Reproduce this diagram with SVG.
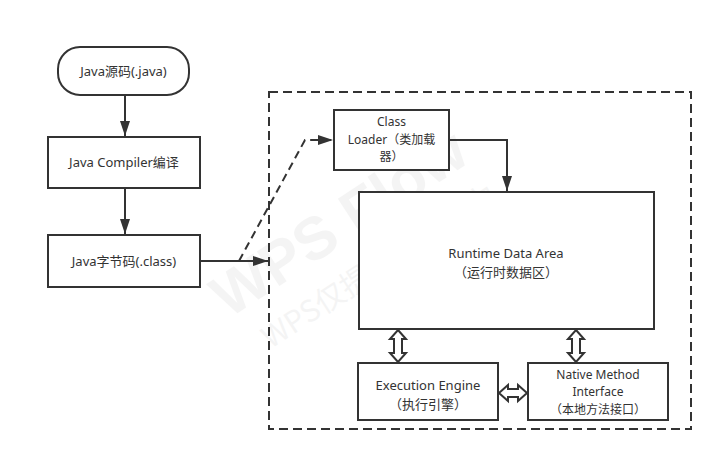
<svg xmlns="http://www.w3.org/2000/svg" width="723" height="462" viewBox="0 0 723 462">
<style>
.box{fill:#fff;stroke:#333;stroke-width:2}
.t{font-family:"Noto Sans","Noto Sans CJK SC",sans-serif;font-size:13px;fill:#333;text-anchor:middle}
.s{font-size:12px}
.ln{fill:none;stroke:#333;stroke-width:2}
.dash{fill:none;stroke:#333;stroke-width:2;stroke-dasharray:8 5}
.dbl{fill:#fff;stroke:#333;stroke-width:2;stroke-linejoin:miter}
.wm{fill:#000;opacity:0.04;text-anchor:middle}
</style>
<defs>
<marker id="ahw" markerWidth="16" markerHeight="12" refX="15" refY="6" orient="auto" markerUnits="userSpaceOnUse">
<path d="M0,1 L15,6 L0,11 Z" fill="#333"/>
</marker>
</defs>
<rect fill="#fff" x="0" y="0" width="723" height="462"/>
<g id="watermark">
<text class="wm" x="350" y="240" font-size="60" font-weight="bold" transform="rotate(-33 350 240)" style="font-family:'Liberation Sans',sans-serif">WPS Flow</text>
<text class="wm" x="385" y="275" font-size="30" transform="rotate(-33 385 275)" style="font-family:'Noto Sans CJK SC',sans-serif">WPS仅提供作图能力</text>
</g>
<g id="container">
<rect x="269" y="92" width="422" height="337" fill="none" stroke="#333" stroke-width="2" stroke-dasharray="9 5"/>
</g>
<g id="connectors">
<line class="ln" x1="125" y1="95" x2="125" y2="136" marker-end="url(#ahw)"/>
<line class="ln" x1="125" y1="188" x2="125" y2="234" marker-end="url(#ahw)"/>
<line class="ln" x1="200" y1="261" x2="268" y2="261" marker-end="url(#ahw)"/>
<polyline class="dash" points="239,261 305,140 333,140" marker-end="url(#ahw)"/>
<polyline class="ln" points="450,140 507,140 507,191" marker-end="url(#ahw)"/>
<polygon class="dbl" points="398,330 406,339 402,339 402,353 406,353 398,362 390,353 394,353 394,339 390,339"/>
<polygon class="dbl" points="576,330 584,339 580,339 580,353 584,353 576,362 568,353 572,353 572,339 568,339"/>
<polygon class="dbl" points="499,393 508,385 508,389 518,389 518,385 527,393 518,401 518,397 508,397 508,401"/>
</g>
<g id="java-source">
<rect class="box" x="58" y="47" width="131" height="48" rx="22" ry="22"/>
<text class="t" x="123.5" y="76">Java源码(.java)</text>
</g>
<g id="java-compiler">
<rect class="box" x="48" y="137" width="152" height="51"/>
<text class="t" x="124" y="167">Java Compiler编译</text>
</g>
<g id="java-bytecode">
<rect class="box" x="48" y="235" width="152" height="52"/>
<text class="t" x="124" y="266">Java字节码(.class)</text>
</g>
<g id="class-loader">
<rect class="box" x="334" y="110" width="115" height="60"/>
<text class="t s" x="391.5" y="126">Class</text>
<text class="t s" x="391.5" y="143.5">Loader（类加载</text>
<text class="t s" x="391.5" y="161">器）</text>
</g>
<g id="runtime-data-area">
<rect class="box" x="359" y="192" width="295" height="137"/>
<text class="t" x="506" y="258">Runtime Data Area</text>
<text class="t" x="506" y="277">（运行时数据区）</text>
</g>
<g id="execution-engine">
<rect class="box" x="358" y="363" width="140" height="57"/>
<text class="t" x="428" y="390">Execution Engine</text>
<text class="t" x="428" y="409">（执行引擎）</text>
</g>
<g id="native-method-interface">
<rect class="box" x="528" y="363" width="140" height="57"/>
<text class="t s" x="598" y="378.5">Native Method</text>
<text class="t s" x="598" y="396">Interface</text>
<text class="t s" x="598" y="413.5">（本地方法接口）</text>
</g>
</svg>
